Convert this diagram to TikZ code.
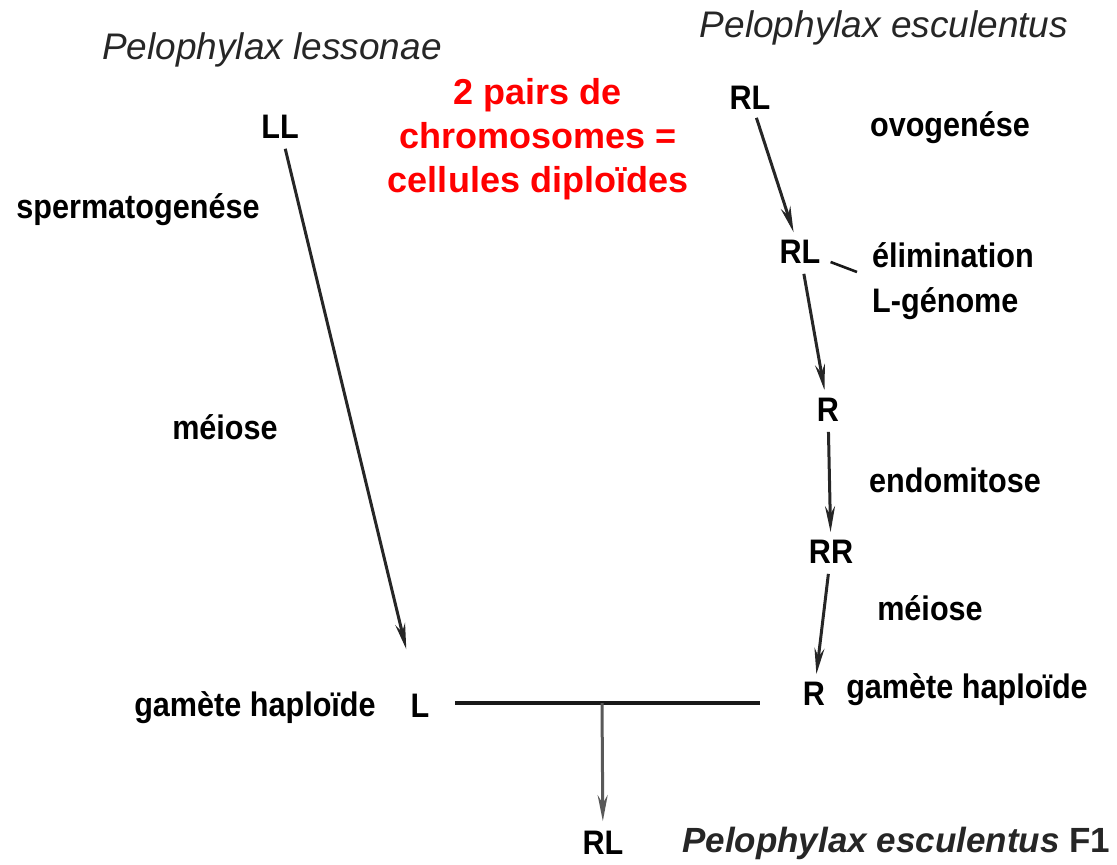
\documentclass[tikz,border=0pt]{standalone}
\usepackage{fontspec}
\setmainfont{Liberation Sans}
\newfontfamily\condfont[FakeStretch=0.9]{Liberation Sans}
\usetikzlibrary{arrows.meta}
\tikzset{
  lab/.style={font=\condfont\bfseries\fontsize{34}{45}\selectfont, inner sep=0pt},
  gen/.style={font=\condfont\bfseries\fontsize{34}{38}\selectfont, inner sep=6pt},
  spec/.style={font=\itshape\fontsize{37}{40}\selectfont, inner sep=0pt, text=black!85},
  specb/.style={font=\bfseries\itshape\fontsize{35}{40}\selectfont, inner sep=0pt, text=black!85},
  red/.style={font=\bfseries\fontsize{36}{44}\selectfont, text=red, align=center, inner sep=0pt},
  arr/.style={draw=black!85, line width=3pt, -{Stealth[length=26pt,width=10pt]}},
  plain/.style={draw=black!90, line width=3.2pt},
}
\begin{document}
\begin{tikzpicture}[x=1pt,y=-1pt]
\useasboundingbox (0,0) rectangle (1117,865);
% species names
\node[spec] (plles) at (272,50) {Pelophylax lessonae};
\node[spec] (plesc) at (884,28) {Pelophylax esculentus};
\node[red] (note) at (538,139) {2 pairs de\\chromosomes =\\cellules diploïdes};
% left column
\node[gen] (LL) at (280,127) {LL};
\node[lab] (sperm) at (138,210) {spermatogenése};
\node[lab] (meil) at (225,427) {méiose};
\node[gen] (L) at (420,706) {L};
\node[lab] (gaml) at (255,708) {gamète haploïde};
% right column
\node[gen] (RL1) at (750,98) {RL};
\node[lab] (ovo) at (950,128) {ovogenése};
\node[gen] (RL2) at (800,252) {RL};
\node[lab, anchor=west, align=left] (elim) at (872,281) {élimination\\L-génome};
\node[gen] (R1) at (828,410) {R};
\node[lab] (endo) at (955,480) {endomitose};
\node[gen] (RR) at (831,552) {RR};
\node[lab] (meir) at (930,608) {méiose};
\node[gen] (R2) at (814,694) {R};
\node[lab] (gamr) at (967,690) {gamète haploïde};
% offspring
\node[gen] (RL3) at (603,843) {RL};
\node[specb, anchor=west] (f1) at (682,843) {Pelophylax esculentus \upshape F1};
% connectors
\draw[arr, shorten <=4pt, shorten >=40pt] (LL) -- (L);
\draw[arr, shorten <=2pt, shorten >=2pt] (RL1) -- (RL2);
\draw[plain, line width=2.6pt] ([xshift=4pt,yshift=-10pt]RL2.east) -- ([xshift=-15pt,yshift=9pt]elim.west);
\draw[arr, shorten <=4pt, shorten >=2pt] (RL2) -- (R1);
\draw[arr, shorten <=4pt, shorten >=2pt] (R1) -- (RR);
\draw[arr, shorten <=4pt, shorten >=2pt] (RR) -- (R2);
\coordinate (hl) at (455,703);
\coordinate (hr) at (760,703);
\coordinate (j) at (602,703);
\draw[plain] (hl) -- (hr);
\draw[arr, draw=black!65, shorten >=4pt] (j) -- (RL3);
\end{tikzpicture}
\end{document}
